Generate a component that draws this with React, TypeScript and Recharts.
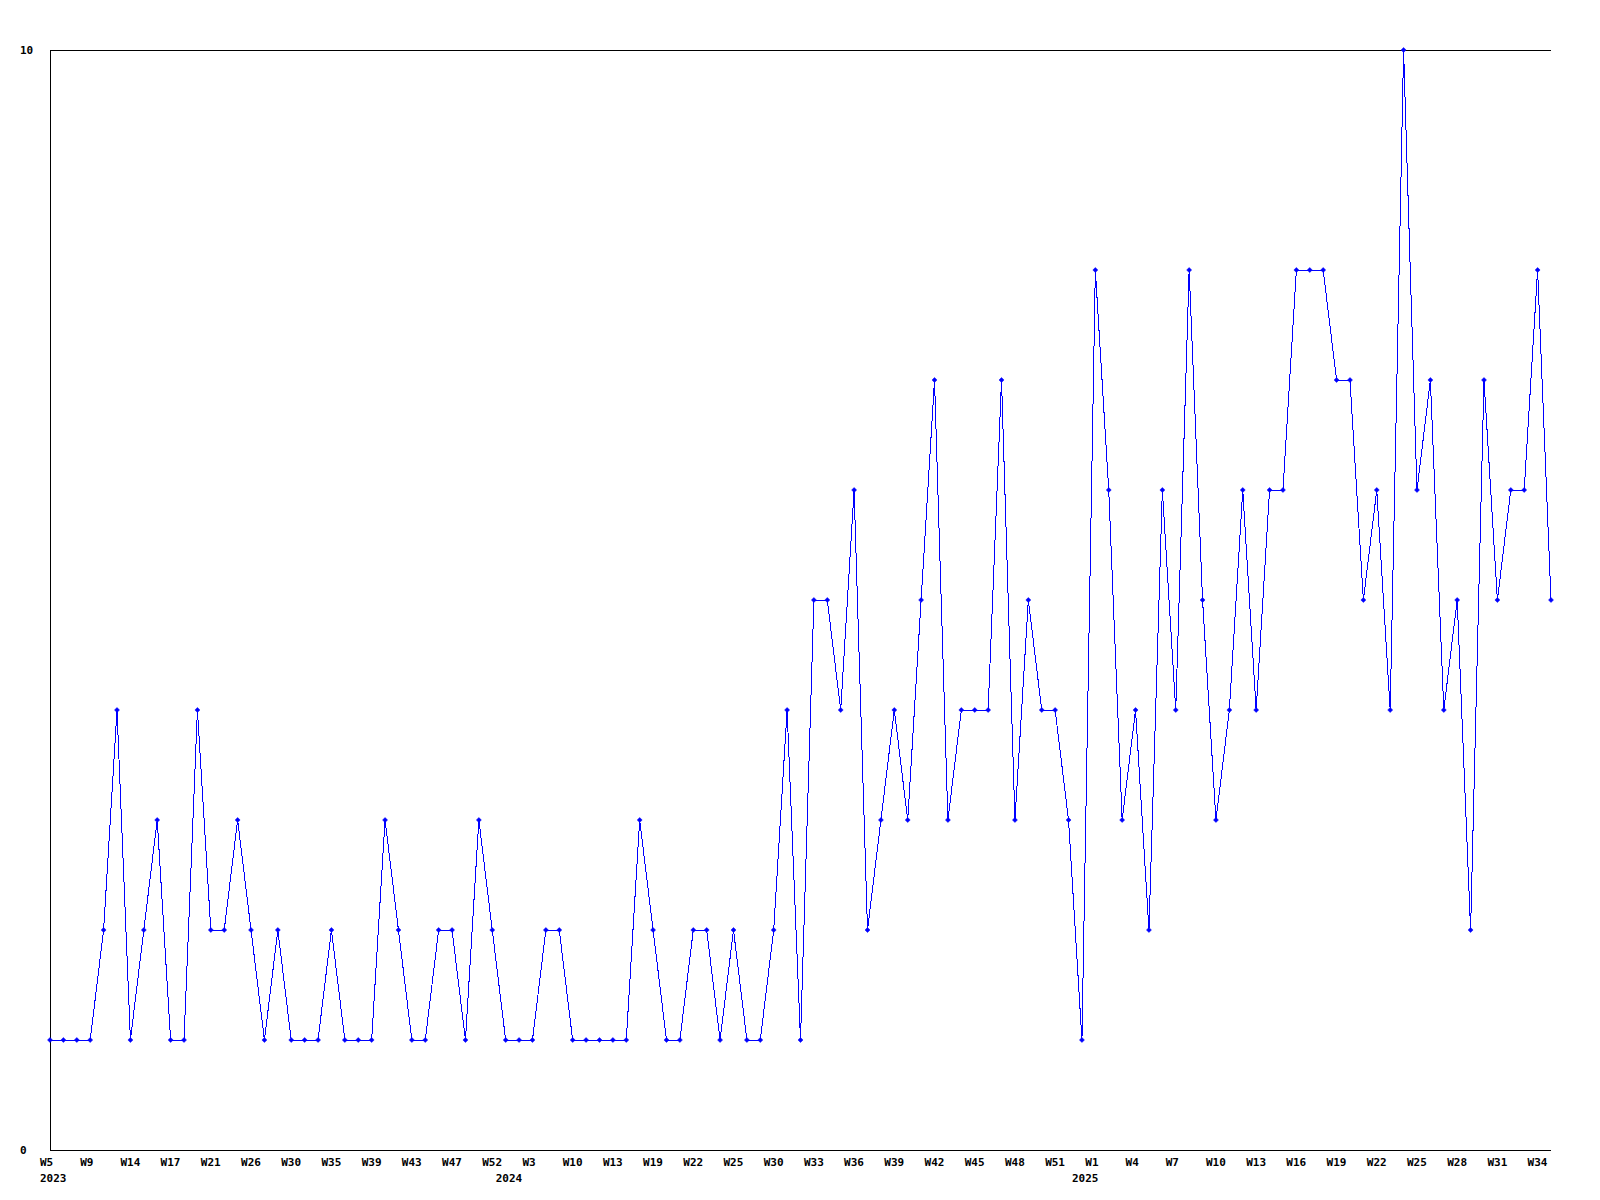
import React from 'react';
import { LineChart, Line, XAxis, YAxis, ReferenceLine } from 'recharts';

// Category keys (year-week) in the order plotted
const categories: string[] = [
  '2023-W5', '2023-W6', '2023-W8', '2023-W9', '2023-W10', '2023-W12', '2023-W14', '2023-W15', '2023-W16', '2023-W17',
  '2023-W18', '2023-W20', '2023-W21', '2023-W22', '2023-W24', '2023-W26', '2023-W27', '2023-W29', '2023-W30', '2023-W31',
  '2023-W33', '2023-W35', '2023-W36', '2023-W38', '2023-W39', '2023-W40', '2023-W42', '2023-W43', '2023-W44', '2023-W46',
  '2023-W47', '2023-W48', '2023-W50', '2023-W52', '2024-W1', '2024-W2', '2024-W3', '2024-W5', '2024-W8', '2024-W10',
  '2024-W11', '2024-W12', '2024-W13', '2024-W15', '2024-W17', '2024-W19', '2024-W20', '2024-W21', '2024-W22', '2024-W23',
  '2024-W24', '2024-W25', '2024-W26', '2024-W28', '2024-W30', '2024-W31', '2024-W32', '2024-W33', '2024-W34', '2024-W35',
  '2024-W36', '2024-W37', '2024-W38', '2024-W39', '2024-W40', '2024-W41', '2024-W42', '2024-W43', '2024-W44', '2024-W45',
  '2024-W46', '2024-W47', '2024-W48', '2024-W49', '2024-W50', '2024-W51', '2024-W52', '2025-W0', '2025-W1', '2025-W2',
  '2025-W3', '2025-W4', '2025-W5', '2025-W6', '2025-W7', '2025-W8', '2025-W9', '2025-W10', '2025-W11', '2025-W12',
  '2025-W13', '2025-W14', '2025-W15', '2025-W16', '2025-W17', '2025-W18', '2025-W19', '2025-W20', '2025-W21', '2025-W22',
  '2025-W23', '2025-W24', '2025-W25', '2025-W26', '2025-W27', '2025-W28', '2025-W29', '2025-W30', '2025-W31', '2025-W32',
  '2025-W33', '2025-W34', '2025-W35',
];

// Weekly counts
const counts: number[] = [
  1, 1, 1, 1, 2, 4, 1, 2, 3, 1,
  1, 4, 2, 2, 3, 2, 1, 2, 1, 1,
  1, 2, 1, 1, 1, 3, 2, 1, 1, 2,
  2, 1, 3, 2, 1, 1, 1, 2, 2, 1,
  1, 1, 1, 1, 3, 2, 1, 1, 2, 2,
  1, 2, 1, 1, 2, 4, 1, 5, 5, 4,
  6, 2, 3, 4, 3, 5, 7, 3, 4, 4,
  4, 7, 3, 5, 4, 4, 3, 1, 8, 6,
  3, 4, 2, 6, 4, 8, 5, 3, 4, 6,
  4, 6, 6, 8, 8, 8, 7, 7, 5, 6,
  4, 10, 6, 7, 4, 5, 2, 7, 5, 6,
  6, 8, 5,
];

// Tick labels
const weekLabelEvery = 3;
const yearLabelIndex: number[] = [0, 34, 77];
const yearLabelText: string[] = ['2023', '2024', '2025'];
const yTicks: number[] = [0, 10];

const data = categories.map((cat, i) => ({ cat, value: counts[i] }));

const FONT = '"DejaVu Sans Mono", monospace';

const XTick = (props: any) => {
  const { x, y, payload } = props;
  const idx: number = payload?.index ?? props.index;
  const cat: string = payload?.value ?? '';
  const week = cat.split('-')[1] || '';
  const yi = yearLabelIndex.indexOf(idx);
  const showWeek = idx % weekLabelEvery === 0;
  if (!showWeek && yi < 0) return <g />;
  return (
    <g>
      {showWeek && (
        <text x={x - 10} y={y + 8} fontFamily={FONT} fontWeight="bold" fontSize={11} fill="#000" textAnchor="start">
          {week}
        </text>
      )}
      {yi >= 0 && (
        <text x={x - 10} y={y + 24} fontFamily={FONT} fontWeight="bold" fontSize={11} fill="#000" textAnchor="start">
          {yearLabelText[yi]}
        </text>
      )}
    </g>
  );
};

const YTick = (props: any) => {
  const { y, payload } = props;
  return (
    <text x={20} y={y + 4} fontFamily={FONT} fontWeight="bold" fontSize={11} fill="#000" textAnchor="start">
      {payload.value}
    </text>
  );
};

const Diamond = (props: any) => {
  const { cx, cy } = props;
  if (cx == null || cy == null) return <g />;
  const r = 2.5;
  return (
    <polygon
      points={`${cx},${cy - r} ${cx + r},${cy} ${cx},${cy + r} ${cx - r},${cy}`}
      fill="#0000ff"
      stroke="#0000ff"
      strokeWidth={0.5}
    />
  );
};

export default function App() {
  return (
    <div style={{ position: 'absolute', left: 0, top: 0, width: 1600, height: 1200, background: '#fff' }}>
      <LineChart width={1600} height={1200} data={data} margin={{ top: 50, right: 49, bottom: 0, left: 0 }}>
        <XAxis
          dataKey="cat"
          interval={0}
          tickLine={false}
          axisLine={{ stroke: '#000', strokeWidth: 1, shapeRendering: 'crispEdges' }}
          tick={<XTick />}
          height={50}
        />
        <YAxis
          domain={[0, 10]}
          ticks={yTicks}
          width={50}
          tickLine={false}
          axisLine={{ stroke: '#000', strokeWidth: 1, shapeRendering: 'crispEdges' }}
          tick={<YTick />}
        />
        <ReferenceLine y={10} stroke="#000" strokeWidth={1} shapeRendering="crispEdges" />
        <Line
          type="linear"
          dataKey="value"
          stroke="#0000ff"
          strokeWidth={1}
          style={{ shapeRendering: 'crispEdges' }}
          dot={<Diamond />}
          activeDot={false}
          isAnimationActive={false}
        />
      </LineChart>
    </div>
  );
}
